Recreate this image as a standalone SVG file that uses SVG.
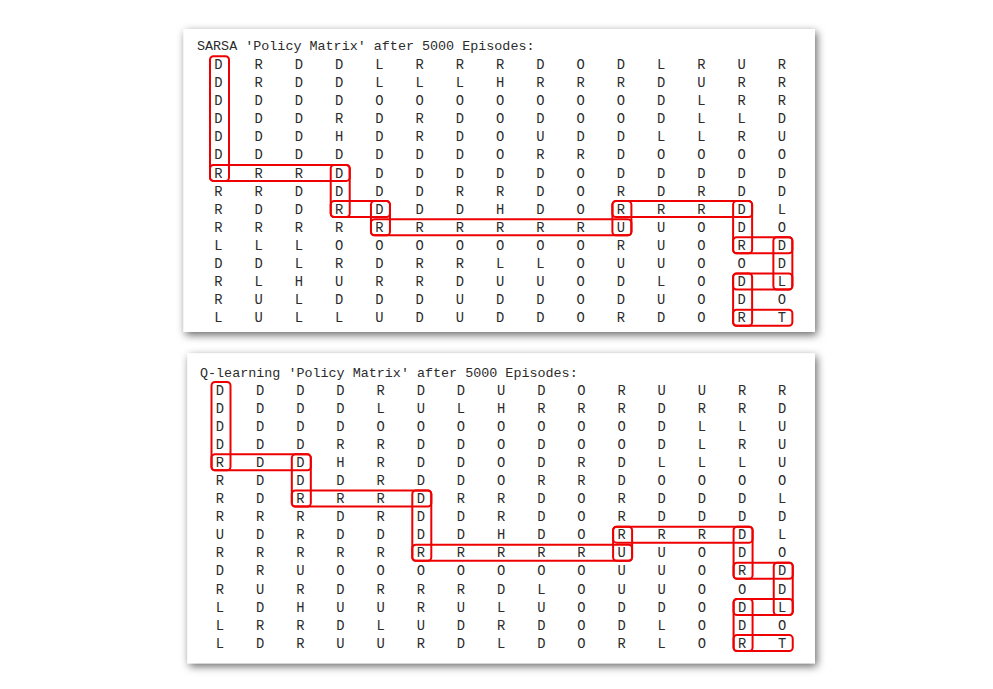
<svg xmlns="http://www.w3.org/2000/svg" width="993" height="689" viewBox="0 0 993 689">
<defs>
<filter id="sh" x="-10%" y="-10%" width="120%" height="125%">
<feDropShadow dx="2" dy="3" stdDeviation="4" flood-color="#000" flood-opacity="0.6"/>
</filter>
<style>
.panel{fill:#fff;filter:url(#sh)}
.t{font-family:"Liberation Mono","DejaVu Sans Mono",monospace;font-size:13.4px;fill:#2b2b2b}
.m{font-family:"Liberation Mono","DejaVu Sans Mono",monospace;font-size:13.8px;fill:#2b2b2b;text-anchor:middle}
.hl rect{fill:none;stroke:#ee0000;stroke-width:2;rx:3.5;ry:3.5}
</style>
</defs>
<rect width="993" height="689" fill="#fff"/>

<g id="sarsa">
<rect class="panel" x="183.5" y="29" width="631.5" height="303"/>
<text class="t" x="197" y="50.4">SARSA 'Policy Matrix' after 5000 Episodes:</text>
<g id="sarsa-matrix">
<text class="m" x="218.5 258.74 298.98 339.22 379.46 419.7 459.94 500.18 540.42 580.66 620.9 661.14 701.38 741.62 781.86" y="68.9">DRDDLRRRDODLRUR</text>
<text class="m" x="218.5 258.74 298.98 339.22 379.46 419.7 459.94 500.18 540.42 580.66 620.9 661.14 701.38 741.62 781.86" y="87">DRDDLLLHRRRDURR</text>
<text class="m" x="218.5 258.74 298.98 339.22 379.46 419.7 459.94 500.18 540.42 580.66 620.9 661.14 701.38 741.62 781.86" y="105.1">DDDDOOOOOOODLRR</text>
<text class="m" x="218.5 258.74 298.98 339.22 379.46 419.7 459.94 500.18 540.42 580.66 620.9 661.14 701.38 741.62 781.86" y="123.2">DDDRDRDODOODLLD</text>
<text class="m" x="218.5 258.74 298.98 339.22 379.46 419.7 459.94 500.18 540.42 580.66 620.9 661.14 701.38 741.62 781.86" y="141.3">DDDHDRDOUDDLLRU</text>
<text class="m" x="218.5 258.74 298.98 339.22 379.46 419.7 459.94 500.18 540.42 580.66 620.9 661.14 701.38 741.62 781.86" y="159.4">DDDDDDDORRDOOOO</text>
<text class="m" x="218.5 258.74 298.98 339.22 379.46 419.7 459.94 500.18 540.42 580.66 620.9 661.14 701.38 741.62 781.86" y="177.5">RRRDDDDDDODDDDD</text>
<text class="m" x="218.5 258.74 298.98 339.22 379.46 419.7 459.94 500.18 540.42 580.66 620.9 661.14 701.38 741.62 781.86" y="195.6">RRDDDDRRDORDRDD</text>
<text class="m" x="218.5 258.74 298.98 339.22 379.46 419.7 459.94 500.18 540.42 580.66 620.9 661.14 701.38 741.62 781.86" y="213.7">RDDRDDDHDORRRDL</text>
<text class="m" x="218.5 258.74 298.98 339.22 379.46 419.7 459.94 500.18 540.42 580.66 620.9 661.14 701.38 741.62 781.86" y="231.8">RRRRRRRRRRUUODO</text>
<text class="m" x="218.5 258.74 298.98 339.22 379.46 419.7 459.94 500.18 540.42 580.66 620.9 661.14 701.38 741.62 781.86" y="249.9">LLLOOOOOOORUORD</text>
<text class="m" x="218.5 258.74 298.98 339.22 379.46 419.7 459.94 500.18 540.42 580.66 620.9 661.14 701.38 741.62 781.86" y="268">DDLRDRRLLOUUOOD</text>
<text class="m" x="218.5 258.74 298.98 339.22 379.46 419.7 459.94 500.18 540.42 580.66 620.9 661.14 701.38 741.62 781.86" y="286.1">RLHURRDUUODLODL</text>
<text class="m" x="218.5 258.74 298.98 339.22 379.46 419.7 459.94 500.18 540.42 580.66 620.9 661.14 701.38 741.62 781.86" y="304.2">RULDDDUDDODUODO</text>
<text class="m" x="218.5 258.74 298.98 339.22 379.46 419.7 459.94 500.18 540.42 580.66 620.9 661.14 701.38 741.62 781.86" y="322.3">LULLUDUDDORDORT</text>
</g>
<g id="sarsa-path" class="hl">
<rect x="210" y="56.3" width="19" height="124.6"/>
<rect x="210" y="164.9" width="139.72" height="16"/>
<rect x="330.72" y="164.9" width="19" height="52.2"/>
<rect x="330.72" y="201.1" width="59.24" height="16"/>
<rect x="370.96" y="201.1" width="19" height="34.1"/>
<rect x="370.96" y="219.2" width="260.44" height="16"/>
<rect x="612.4" y="201.1" width="19" height="34.1"/>
<rect x="612.4" y="201.1" width="139.72" height="16"/>
<rect x="733.12" y="201.1" width="19" height="52.2"/>
<rect x="733.12" y="237.3" width="59.24" height="16"/>
<rect x="773.36" y="237.3" width="19" height="52.2"/>
<rect x="733.12" y="273.5" width="59.24" height="16"/>
<rect x="733.12" y="273.5" width="19" height="52.2"/>
<rect x="733.12" y="309.7" width="59.24" height="16"/>
</g>
</g>

<g id="qlearning">
<rect class="panel" x="187.3" y="353.3" width="627.7" height="310"/>
<text class="t" x="200" y="376.5">Q-learning 'Policy Matrix' after 5000 Episodes:</text>
<g id="q-matrix">
<text class="m" x="220 260.16 300.32 340.48 380.64 420.8 460.96 501.12 541.28 581.44 621.6 661.76 701.92 742.08 782.24" y="394.6">DDDDRDDUDORUURR</text>
<text class="m" x="220 260.16 300.32 340.48 380.64 420.8 460.96 501.12 541.28 581.44 621.6 661.76 701.92 742.08 782.24" y="412.7">DDDDLULHRRRDRRD</text>
<text class="m" x="220 260.16 300.32 340.48 380.64 420.8 460.96 501.12 541.28 581.44 621.6 661.76 701.92 742.08 782.24" y="430.8">DDDDOOOOOOODLLU</text>
<text class="m" x="220 260.16 300.32 340.48 380.64 420.8 460.96 501.12 541.28 581.44 621.6 661.76 701.92 742.08 782.24" y="448.8">DDDRRDDODOODLRU</text>
<text class="m" x="220 260.16 300.32 340.48 380.64 420.8 460.96 501.12 541.28 581.44 621.6 661.76 701.92 742.08 782.24" y="466.9">RDDHRDDODRDLLLU</text>
<text class="m" x="220 260.16 300.32 340.48 380.64 420.8 460.96 501.12 541.28 581.44 621.6 661.76 701.92 742.08 782.24" y="485">RDDDRDDORRDOOOO</text>
<text class="m" x="220 260.16 300.32 340.48 380.64 420.8 460.96 501.12 541.28 581.44 621.6 661.76 701.92 742.08 782.24" y="503.1">RDRRRDRRDORDDDL</text>
<text class="m" x="220 260.16 300.32 340.48 380.64 420.8 460.96 501.12 541.28 581.44 621.6 661.76 701.92 742.08 782.24" y="521.2">RRRDRDDRDORDDDD</text>
<text class="m" x="220 260.16 300.32 340.48 380.64 420.8 460.96 501.12 541.28 581.44 621.6 661.76 701.92 742.08 782.24" y="539.2">UDRDDDDHDORRRDL</text>
<text class="m" x="220 260.16 300.32 340.48 380.64 420.8 460.96 501.12 541.28 581.44 621.6 661.76 701.92 742.08 782.24" y="557.3">RRRRRRRRRRUUODO</text>
<text class="m" x="220 260.16 300.32 340.48 380.64 420.8 460.96 501.12 541.28 581.44 621.6 661.76 701.92 742.08 782.24" y="575.4">DRUOOOOOOOUUORD</text>
<text class="m" x="220 260.16 300.32 340.48 380.64 420.8 460.96 501.12 541.28 581.44 621.6 661.76 701.92 742.08 782.24" y="593.5">RURDRRRDLOUUOOD</text>
<text class="m" x="220 260.16 300.32 340.48 380.64 420.8 460.96 501.12 541.28 581.44 621.6 661.76 701.92 742.08 782.24" y="611.6">LDHUURULUODDODL</text>
<text class="m" x="220 260.16 300.32 340.48 380.64 420.8 460.96 501.12 541.28 581.44 621.6 661.76 701.92 742.08 782.24" y="629.6">LRRDLUDRDODLODO</text>
<text class="m" x="220 260.16 300.32 340.48 380.64 420.8 460.96 501.12 541.28 581.44 621.6 661.76 701.92 742.08 782.24" y="647.7">LDRUURDLDORLORT</text>
</g>
<g id="q-path" class="hl">
<rect x="211.5" y="382" width="19" height="88.32"/>
<rect x="211.5" y="454.32" width="99.32" height="16"/>
<rect x="291.82" y="454.32" width="19" height="52.16"/>
<rect x="291.82" y="490.48" width="139.48" height="16"/>
<rect x="412.3" y="490.48" width="19" height="70.24"/>
<rect x="412.3" y="544.72" width="219.8" height="16"/>
<rect x="613.1" y="526.64" width="19" height="34.08"/>
<rect x="613.1" y="526.64" width="139.48" height="16"/>
<rect x="733.58" y="526.64" width="19" height="52.16"/>
<rect x="733.58" y="562.8" width="59.16" height="16"/>
<rect x="773.74" y="562.8" width="19" height="52.16"/>
<rect x="733.58" y="598.96" width="59.16" height="16"/>
<rect x="733.58" y="598.96" width="19" height="52.16"/>
<rect x="733.58" y="635.12" width="59.16" height="16"/>
</g>
</g>
</svg>
